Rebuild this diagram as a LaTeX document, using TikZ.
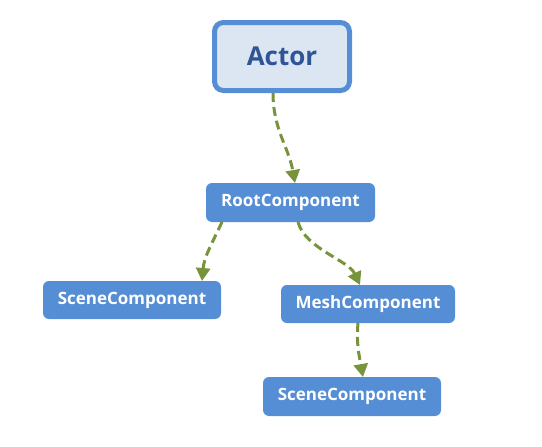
\documentclass[tikz,border=0pt]{standalone}
\usepackage{fontspec}
\setmainfont{Open Sans}
\usetikzlibrary{arrows.meta}
\definecolor{boxblue}{HTML}{558ED5}
\definecolor{actorfill}{HTML}{DCE6F2}
\definecolor{actortext}{HTML}{2F5597}
\definecolor{linkgreen}{HTML}{77933C}
\begin{document}
\begin{tikzpicture}[x=1pt,y=-1pt,
  compbox/.style={draw=none,fill=boxblue,rounded corners=6pt,text=white,
    font=\fontsize{17}{20}\selectfont\bfseries,inner sep=0pt,outer sep=0pt},
  actorbox/.style={draw=boxblue,line width=5pt,fill=actorfill,rounded corners=9pt,
    text=actortext,font=\fontsize{26}{30}\selectfont\bfseries,inner sep=0pt,outer sep=2.5pt},
  link/.style={draw=linkgreen,line width=3pt,dash pattern=on 9pt off 5pt,
    -{Triangle[length=13pt,width=14pt]}}]
\useasboundingbox (0,0) rectangle (542,447);
\node[actorbox,minimum width=135pt,minimum height=68pt] (actor) at (282,56.5) {Actor};
\node[compbox,minimum width=169pt,minimum height=39pt] (root) at (290.5,202.5) {RootComponent};
\node[compbox,minimum width=178pt,minimum height=38pt] (scene1) at (132,300) {SceneComponent};
\node[compbox,minimum width=174pt,minimum height=38pt] (mesh) at (368,304) {MeshComponent};
\node[compbox,minimum width=178pt,minimum height=39pt] (scene2) at (352,396.5) {SceneComponent};
\draw[link] ([xshift=-9pt]actor.south) to[out=-90,in=100] ([xshift=4.5pt]root.north);
\draw[link] ([xshift=16pt]root.south west) to[out=-115,in=85] ([xshift=159pt]scene1.north west);
\draw[link] ([xshift=7.5pt]root.south) to[out=-75,in=115,looseness=0.8] ([xshift=-8pt]mesh.north);
\draw[link] ([xshift=-10pt]mesh.south) to[out=-95,in=100] ([xshift=100pt]scene2.north west);
\end{tikzpicture}
\end{document}
